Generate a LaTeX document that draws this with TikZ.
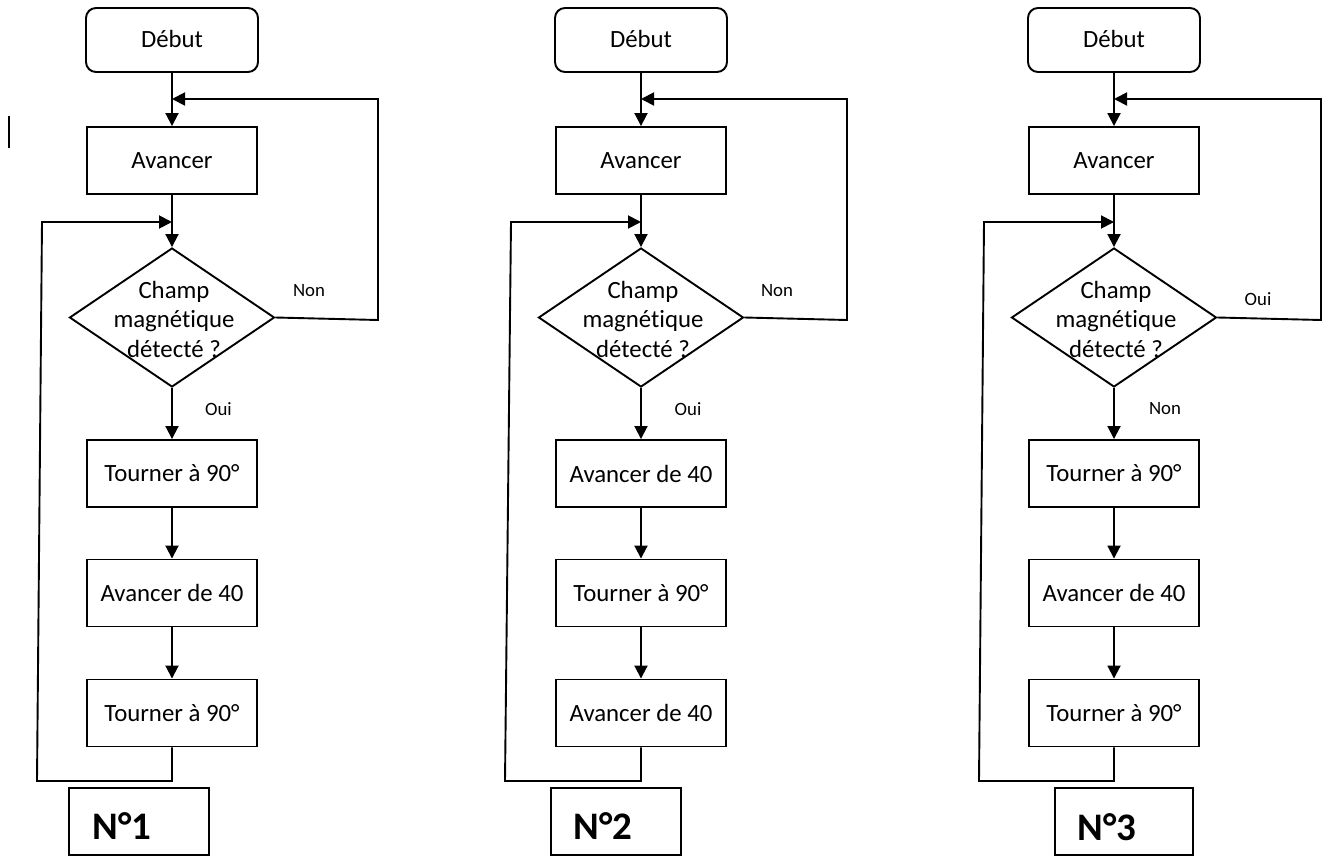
\documentclass[tikz,border=0pt]{standalone}
\usepackage{fontspec}
\setmainfont{Carlito}[Ligatures={NoCommon}]
\usetikzlibrary{shapes.geometric,arrows.meta}
\begin{document}
\begin{tikzpicture}[x=0.5pt,y=-0.5pt,
 line width=0.95pt,
 every node/.style={font=\fontsize{12.4}{14.75}\selectfont},
 startbox/.style={draw, rounded corners=5pt, minimum width=86pt, minimum height=32pt, inner sep=0pt},
 procbox/.style={draw, minimum width=85pt, minimum height=33.5pt, inner sep=0pt},
 testbox/.style={draw, diamond, minimum width=102.5pt, minimum height=69.5pt, inner sep=0pt},
 qtext/.style={align=center, inner sep=0pt},
 lbl/.style={font=\fontsize{9.4}{11}\selectfont, inner sep=0pt},
 numbox/.style={draw, minimum height=33.5pt, inner sep=0pt},
 numtext/.style={font=\fontsize{19.5}{23}\selectfont\bfseries, inner sep=0pt, anchor=base west},
 flow/.style={-{Triangle[width=6.5pt,length=6.5pt]}}
]
\useasboundingbox (0,0) rectangle (1323,856);

% stray mark
\draw[line width=1.1pt] (9,116) -- (9,148);

% ---------------- Chart 1 ----------------
\node[startbox] (d1) at (172,40) {\raisebox{1pt}{Début}};
\node[procbox] (a1) at (172,160.5) {Avancer};
\node[testbox] (q1) at (172,317.5) {};
\node[qtext] (q1t) at (174,319) {Champ\\magnétique\\détecté ?};
\node[procbox] (s1a) at (172,473.5) {Tourner à 90°};
\node[procbox] (s1b) at (172,593) {Avancer de 40};
\node[procbox] (s1c) at (172,713) {Tourner à 90°};
\node[numbox, minimum width=70pt] (n1) at (139,821.5) {};
\node[numtext] (n1t) at (92,839) {N°1};
\node[lbl] (non1) at (309,291) {Non};
\node[lbl] (oui1) at (218.5,409) {Oui};
\coordinate (k1) at (172,99);
\coordinate (j1) at (172,222);
\coordinate (r1a) at (378,320);
\coordinate (r1b) at (378,99);
\coordinate (b1) at (172,781);
\coordinate (l1a) at (37,781);
\coordinate (l1b) at (42,222);
\draw[flow] (d1.south) -- (a1.north);
\draw[flow] (a1.south) -- (q1.north);
\draw[flow] (q1.south) -- (s1a.north);
\draw[flow] (s1a.south) -- (s1b.north);
\draw[flow] (s1b.south) -- (s1c.north);
\draw[flow] (q1.east) -- (r1a) -- (r1b) -- (k1);
\draw[flow] (s1c.south) -- (b1) -- (l1a) -- (l1b) -- (j1);

% ---------------- Chart 2 ----------------
\node[startbox] (d2) at (641,40) {\raisebox{1pt}{Début}};
\node[procbox] (a2) at (641,160.5) {Avancer};
\node[testbox] (q2) at (641,317.5) {};
\node[qtext] (q2t) at (643,319) {Champ\\magnétique\\détecté ?};
\node[procbox] (s2a) at (641,473.5) {Avancer de 40};
\node[procbox] (s2b) at (641,593) {Tourner à 90°};
\node[procbox] (s2c) at (641,713) {Avancer de 40};
\node[numbox, minimum width=65pt] (n2) at (616,821.5) {};
\node[numtext] (n2t) at (573,839) {N°2};
\node[lbl] (non2) at (777,291) {Non};
\node[lbl] (oui2) at (688,409) {Oui};
\coordinate (k2) at (641,99);
\coordinate (j2) at (641,222);
\coordinate (r2a) at (847,320);
\coordinate (r2b) at (847,99);
\coordinate (b2) at (641,781);
\coordinate (l2a) at (505,781);
\coordinate (l2b) at (511,222);
\draw[flow] (d2.south) -- (a2.north);
\draw[flow] (a2.south) -- (q2.north);
\draw[flow] (q2.south) -- (s2a.north);
\draw[flow] (s2a.south) -- (s2b.north);
\draw[flow] (s2b.south) -- (s2c.north);
\draw[flow] (q2.east) -- (r2a) -- (r2b) -- (k2);
\draw[flow] (s2c.south) -- (b2) -- (l2a) -- (l2b) -- (j2);

% ---------------- Chart 3 ----------------
\node[startbox] (d3) at (1114,40) {\raisebox{1pt}{Début}};
\node[procbox] (a3) at (1114,160.5) {Avancer};
\node[testbox] (q3) at (1114,317.5) {};
\node[qtext] (q3t) at (1116,319) {Champ\\magnétique\\détecté ?};
\node[procbox] (s3a) at (1114,473.5) {Tourner à 90°};
\node[procbox] (s3b) at (1114,593) {Avancer de 40};
\node[procbox] (s3c) at (1114,713) {Tourner à 90°};
\node[numbox, minimum width=69pt] (n3) at (1124,821.5) {};
\node[numtext] (n3t) at (1077,840) {N°3};
\node[lbl] (oui3) at (1258,299) {Oui};
\node[lbl] (non3) at (1165,409) {Non};
\coordinate (k3) at (1114,99);
\coordinate (j3) at (1114,222);
\coordinate (r3a) at (1321,320);
\coordinate (r3b) at (1321,99);
\coordinate (b3) at (1114,781);
\coordinate (l3a) at (979,781);
\coordinate (l3b) at (984,222);
\draw[flow] (d3.south) -- (a3.north);
\draw[flow] (a3.south) -- (q3.north);
\draw[flow] (q3.south) -- (s3a.north);
\draw[flow] (s3a.south) -- (s3b.north);
\draw[flow] (s3b.south) -- (s3c.north);
\draw[flow] (q3.east) -- (r3a) -- (r3b) -- (k3);
\draw[flow] (s3c.south) -- (b3) -- (l3a) -- (l3b) -- (j3);
\end{tikzpicture}
\end{document}
